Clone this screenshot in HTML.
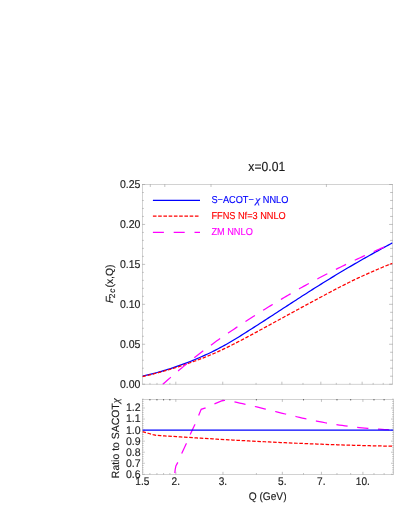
<!DOCTYPE html>
<html><head><meta charset="utf-8"><title>x=0.01</title>
<style>
html,body{margin:0;padding:0;background:#fff;}
svg{display:block;font-family:"Liberation Sans",sans-serif;font-kerning:none;text-rendering:geometricPrecision;}
</style></head><body>
<svg width="399" height="516" viewBox="0 0 399 516">
<rect width="399" height="516" fill="#fff"/>
<defs>
<clipPath id="cu"><rect x="142.5" y="184.5" width="250.0" height="199.7"/></clipPath>
<clipPath id="cl"><rect x="142.4" y="399.4" width="250.999" height="74.900"/></clipPath>
</defs>
<g fill="none" stroke="#b4b4b4" stroke-width="0.6">
<rect x="142.5" y="184.5" width="250.0" height="199.70"/>
<rect x="142.4" y="399.4" width="250.999" height="74.90"/>
</g>
<path d="M175.80,384.5v-2.8 M175.84,474.6v-2.8 M175.84,399.099v2.8 M222.74,384.5v-2.8 M222.97,474.6v-2.8 M222.97,399.099v2.8 M281.88,384.5v-2.8 M282.34,474.6v-2.8 M282.34,399.099v2.8 M320.83,384.5v-2.8 M321.45,474.6v-2.8 M321.45,399.099v2.8 M362.13,384.5v-2.8 M362.91,474.6v-2.8 M362.91,399.099v2.8 M149.97,384.5v-1.6 M149.90,474.6v-1.6 M149.90,399.099v1.6 M156.99,384.5v-1.6 M156.95,474.6v-1.6 M156.95,399.099v1.6 M163.61,384.5v-1.6 M163.59,474.6v-1.6 M163.59,399.099v1.6 M169.87,384.5v-1.6 M169.88,474.6v-1.6 M169.88,399.099v1.6 M256.05,384.5v-1.6 M256.40,474.6v-1.6 M256.40,399.099v1.6 M302.99,384.5v-1.6 M303.53,474.6v-1.6 M303.53,399.099v1.6 M336.29,384.5v-1.6 M336.97,474.6v-1.6 M336.97,399.099v1.6 M349.93,384.5v-1.6 M350.66,474.6v-1.6 M350.66,399.099v1.6 M373.16,384.5v-1.6 M373.98,474.6v-1.6 M373.98,399.099v1.6 M383.23,384.5v-1.6 M384.10,474.6v-1.6 M384.10,399.099v1.6 M150.30,184.2v2.8 M164.80,184.2v2.8 M211.00,184.2v2.8 M326.40,184.2v2.8 M142.2,384.20h2.9 M392.8,384.20h-3.699 M142.2,376.21h1.6 M392.8,376.21h-2.699 M142.2,368.22h1.6 M392.8,368.22h-2.699 M142.2,360.24h1.6 M392.8,360.24h-2.699 M142.2,352.25h1.6 M392.8,352.25h-2.699 M142.2,344.26h2.9 M392.8,344.26h-3.699 M142.2,336.27h1.6 M392.8,336.27h-2.699 M142.2,328.28h1.6 M392.8,328.28h-2.699 M142.2,320.30h1.6 M392.8,320.30h-2.699 M142.2,312.31h1.6 M392.8,312.31h-2.699 M142.2,304.32h2.9 M392.8,304.32h-3.699 M142.2,296.33h1.6 M392.8,296.33h-2.699 M142.2,288.34h1.6 M392.8,288.34h-2.699 M142.2,280.36h1.6 M392.8,280.36h-2.699 M142.2,272.37h1.6 M392.8,272.37h-2.699 M142.2,264.38h2.9 M392.8,264.38h-3.699 M142.2,256.39h1.6 M392.8,256.39h-2.699 M142.2,248.40h1.6 M392.8,248.40h-2.699 M142.2,240.42h1.6 M392.8,240.42h-2.699 M142.2,232.43h1.6 M392.8,232.43h-2.699 M142.2,224.44h2.9 M392.8,224.44h-3.699 M142.2,216.45h1.6 M392.8,216.45h-2.699 M142.2,208.46h1.6 M392.8,208.46h-2.699 M142.2,200.48h1.6 M392.8,200.48h-2.699 M142.2,192.49h1.6 M392.8,192.49h-2.699 M142.2,184.50h2.9 M392.8,184.50h-3.699 M142.1,474.30h2.699 M393.7,474.30h-2.699 M142.1,472.09h1.5 M393.7,472.09h-1.5 M142.1,469.88h1.5 M393.7,469.88h-1.5 M142.1,467.67h1.5 M393.7,467.67h-1.5 M142.1,465.46h1.5 M393.7,465.46h-1.5 M142.1,463.25h2.699 M393.7,463.25h-2.699 M142.1,461.04h1.5 M393.7,461.04h-1.5 M142.1,458.83h1.5 M393.7,458.83h-1.5 M142.1,456.62h1.5 M393.7,456.62h-1.5 M142.1,454.41h1.5 M393.7,454.41h-1.5 M142.1,452.20h2.699 M393.7,452.20h-2.699 M142.1,449.99h1.5 M393.7,449.99h-1.5 M142.1,447.78h1.5 M393.7,447.78h-1.5 M142.1,445.57h1.5 M393.7,445.57h-1.5 M142.1,443.36h1.5 M393.7,443.36h-1.5 M142.1,441.15h2.699 M393.7,441.15h-2.699 M142.1,438.94h1.5 M393.7,438.94h-1.5 M142.1,436.73h1.5 M393.7,436.73h-1.5 M142.1,434.52h1.5 M393.7,434.52h-1.5 M142.1,432.31h1.5 M393.7,432.31h-1.5 M142.1,430.10h2.699 M393.7,430.10h-2.699 M142.1,427.89h1.5 M393.7,427.89h-1.5 M142.1,425.68h1.5 M393.7,425.68h-1.5 M142.1,423.47h1.5 M393.7,423.47h-1.5 M142.1,421.26h1.5 M393.7,421.26h-1.5 M142.1,419.05h2.699 M393.7,419.05h-2.699 M142.1,416.84h1.5 M393.7,416.84h-1.5 M142.1,414.63h1.5 M393.7,414.63h-1.5 M142.1,412.42h1.5 M393.7,412.42h-1.5 M142.1,410.21h1.5 M393.7,410.21h-1.5 M142.1,408.00h2.699 M393.7,408.00h-2.699 M142.1,405.79h1.5 M393.7,405.79h-1.5 M142.1,403.58h1.5 M393.7,403.58h-1.5 M142.1,401.37h1.5 M393.7,401.37h-1.5 M142.1,399.16h1.5 M393.7,399.16h-1.5" fill="none" stroke="#9a9a9a" stroke-width="0.6"/>
<path d="M149.90,399.0v1.2 M156.95,399.0v1.2 M163.59,399.0v1.2 M169.88,399.0v1.2 M256.40,399.0v1.2 M303.53,399.0v1.2 M336.97,399.0v1.2 M350.66,399.0v1.2 M373.98,399.0v1.2 M384.10,399.0v1.2" fill="none" stroke="#555" stroke-width="0.8"/>
<g clip-path="url(#cu)" fill="none" stroke-width="1.25">
<path d="M142.50,376.12 L144.60,375.66 L146.70,375.18 L148.80,374.68 L150.90,374.16 L153.00,373.63 L155.11,373.08 L157.21,372.52 L159.31,371.94 L161.41,371.34 L163.51,370.72 L165.61,370.09 L167.71,369.44 L169.81,368.78 L171.91,368.10 L174.01,367.40 L176.11,366.69 L178.21,365.95 L180.32,365.21 L182.42,364.44 L184.52,363.66 L186.62,362.86 L188.72,362.05 L190.82,361.22 L192.92,360.37 L195.02,359.50 L197.12,358.62 L199.22,357.72 L201.32,356.80 L203.42,355.87 L205.53,354.92 L207.63,353.95 L209.73,352.96 L211.83,351.94 L213.93,350.91 L216.03,349.85 L218.13,348.76 L220.23,347.65 L222.33,346.51 L224.43,345.35 L226.53,344.17 L228.63,342.96 L230.74,341.73 L232.84,340.49 L234.94,339.23 L237.04,337.95 L239.14,336.66 L241.24,335.35 L243.34,334.04 L245.44,332.72 L247.54,331.39 L249.64,330.05 L251.74,328.71 L253.84,327.37 L255.95,326.02 L258.05,324.67 L260.15,323.32 L262.25,321.97 L264.35,320.61 L266.45,319.25 L268.55,317.89 L270.65,316.53 L272.75,315.16 L274.85,313.80 L276.95,312.43 L279.05,311.07 L281.16,309.70 L283.26,308.34 L285.36,306.97 L287.46,305.61 L289.56,304.25 L291.66,302.88 L293.76,301.52 L295.86,300.17 L297.96,298.81 L300.06,297.46 L302.16,296.10 L304.26,294.76 L306.37,293.41 L308.47,292.07 L310.57,290.73 L312.67,289.40 L314.77,288.07 L316.87,286.75 L318.97,285.43 L321.07,284.11 L323.17,282.80 L325.27,281.50 L327.37,280.20 L329.47,278.91 L331.58,277.62 L333.68,276.35 L335.78,275.07 L337.88,273.81 L339.98,272.55 L342.08,271.30 L344.18,270.05 L346.28,268.81 L348.38,267.57 L350.48,266.34 L352.58,265.12 L354.68,263.90 L356.79,262.69 L358.89,261.48 L360.99,260.28 L363.09,259.08 L365.19,257.89 L367.29,256.70 L369.39,255.52 L371.49,254.34 L373.59,253.17 L375.69,252.01 L377.79,250.84 L379.89,249.69 L382.00,248.53 L384.10,247.38 L386.20,246.24 L388.30,245.10 L390.40,243.96 L392.50,242.83" stroke="#0000ff"/>
<path d="M142.50,376.52 L144.60,376.05 L146.70,375.56 L148.80,375.07 L150.90,374.56 L153.00,374.04 L155.11,373.51 L157.21,372.97 L159.31,372.42 L161.41,371.85 L163.51,371.27 L165.61,370.68 L167.71,370.07 L169.81,369.45 L171.91,368.81 L174.01,368.16 L176.11,367.50 L178.21,366.83 L180.32,366.14 L182.42,365.44 L184.52,364.73 L186.62,364.00 L188.72,363.27 L190.82,362.53 L192.92,361.77 L195.02,361.00 L197.12,360.23 L199.22,359.43 L201.32,358.63 L203.42,357.81 L205.53,356.98 L207.63,356.13 L209.73,355.26 L211.83,354.38 L213.93,353.48 L216.03,352.56 L218.13,351.62 L220.23,350.66 L222.33,349.68 L224.43,348.68 L226.53,347.67 L228.63,346.64 L230.74,345.60 L232.84,344.54 L234.94,343.47 L237.04,342.39 L239.14,341.30 L241.24,340.20 L243.34,339.10 L245.44,337.99 L247.54,336.87 L249.64,335.74 L251.74,334.62 L253.84,333.49 L255.95,332.35 L258.05,331.21 L260.15,330.07 L262.25,328.93 L264.35,327.78 L266.45,326.64 L268.55,325.49 L270.65,324.34 L272.75,323.19 L274.85,322.04 L276.95,320.90 L279.05,319.75 L281.16,318.60 L283.26,317.45 L285.36,316.31 L287.46,315.16 L289.56,314.01 L291.66,312.87 L293.76,311.73 L295.86,310.58 L297.96,309.44 L300.06,308.30 L302.16,307.16 L304.26,306.02 L306.37,304.88 L308.47,303.74 L310.57,302.60 L312.67,301.46 L314.77,300.33 L316.87,299.19 L318.97,298.06 L321.07,296.93 L323.17,295.80 L325.27,294.68 L327.37,293.56 L329.47,292.44 L331.58,291.33 L333.68,290.23 L335.78,289.13 L337.88,288.05 L339.98,286.96 L342.08,285.89 L344.18,284.83 L346.28,283.77 L348.38,282.73 L350.48,281.70 L352.58,280.68 L354.68,279.67 L356.79,278.67 L358.89,277.68 L360.99,276.71 L363.09,275.74 L365.19,274.79 L367.29,273.85 L369.39,272.92 L371.49,271.99 L373.59,271.07 L375.69,270.16 L377.79,269.25 L379.89,268.35 L382.00,267.45 L384.10,266.58 L386.20,265.72 L388.30,264.88 L390.40,264.07 L392.50,263.28" stroke="#ff0000" stroke-dasharray="3.6 1.65"/>
<path d="M162.37,384.75 L164.30,383.01 L166.24,381.29 L168.17,379.57 L170.10,377.88 L172.04,376.19 L173.97,374.52 L175.91,372.86 L177.84,371.22 L179.77,369.59 L181.71,367.97 L183.64,366.37 L185.58,364.78 L187.51,363.20 L189.44,361.64 L191.38,360.09 L193.31,358.55 L195.25,357.02 L197.18,355.51 L199.11,354.01 L201.05,352.53 L202.98,351.06 L204.91,349.60 L206.85,348.15 L208.78,346.71 L210.72,345.29 L212.65,343.88 L214.58,342.49 L216.52,341.10 L218.45,339.73 L220.39,338.37 L222.32,337.03 L224.25,335.69 L226.19,334.37 L228.12,333.05 L230.05,331.75 L231.99,330.45 L233.92,329.16 L235.86,327.88 L237.79,326.61 L239.72,325.34 L241.66,324.07 L243.59,322.81 L245.53,321.56 L247.46,320.31 L249.39,319.06 L251.33,317.81 L253.26,316.57 L255.20,315.33 L257.13,314.10 L259.06,312.87 L261.00,311.65 L262.93,310.43 L264.86,309.22 L266.80,308.01 L268.73,306.81 L270.67,305.62 L272.60,304.43 L274.53,303.26 L276.47,302.09 L278.40,300.92 L280.34,299.76 L282.27,298.61 L284.20,297.47 L286.14,296.34 L288.07,295.21 L290.00,294.09 L291.94,292.97 L293.87,291.86 L295.81,290.76 L297.74,289.67 L299.67,288.58 L301.61,287.50 L303.54,286.42 L305.48,285.36 L307.41,284.29 L309.34,283.24 L311.28,282.19 L313.21,281.15 L315.15,280.12 L317.08,279.09 L319.01,278.06 L320.95,277.05 L322.88,276.04 L324.81,275.03 L326.75,274.04 L328.68,273.04 L330.62,272.06 L332.55,271.08 L334.48,270.11 L336.42,269.14 L338.35,268.18 L340.29,267.22 L342.22,266.27 L344.15,265.33 L346.09,264.39 L348.02,263.46 L349.95,262.53 L351.89,261.61 L353.82,260.69 L355.76,259.78 L357.69,258.88 L359.62,257.98 L361.56,257.08 L363.49,256.19 L365.43,255.31 L367.36,254.43 L369.29,253.56 L371.23,252.69 L373.16,251.82 L375.10,250.97 L377.03,250.11 L378.96,249.27 L380.90,248.43 L382.83,247.59 L384.76,246.76 L386.70,245.94 L388.63,245.13 L390.57,244.32 L392.50,243.51" stroke="#ff00ff" stroke-dasharray="11.3 9.6"/>
</g>
<g clip-path="url(#cl)" fill="none" stroke-width="1.25">
<path d="M174.70,474.30 L174.80,473.00 L175.20,469.50 L175.90,466.00 L177.90,462.20 L181.70,453.50 L186.35,443.50 L190.30,434.20 L194.90,424.50 L198.60,415.50 L201.20,409.30 L205.50,407.80 L214.50,403.90 L222.80,400.45 L225.50,400.22 L228.35,400.75 L231.19,401.30 L234.04,401.86 L236.88,402.45 L239.73,403.05 L242.57,403.67 L245.42,404.31 L248.27,404.95 L251.11,405.61 L253.96,406.29 L256.80,406.97 L259.65,407.65 L262.49,408.35 L265.34,409.05 L268.19,409.75 L271.03,410.46 L273.88,411.17 L276.72,411.88 L279.57,412.59 L282.42,413.30 L285.26,414.00 L288.11,414.70 L290.95,415.39 L293.80,416.08 L296.64,416.75 L299.49,417.42 L302.34,418.07 L305.18,418.71 L308.03,419.34 L310.87,419.95 L313.72,420.55 L316.56,421.12 L319.41,421.68 L322.26,422.22 L325.10,422.74 L327.95,423.24 L330.79,423.73 L333.64,424.19 L336.48,424.64 L339.33,425.07 L342.18,425.48 L345.02,425.87 L347.87,426.25 L350.71,426.61 L353.56,426.95 L356.41,427.27 L359.25,427.58 L362.10,427.86 L364.94,428.14 L367.79,428.39 L370.63,428.63 L373.48,428.85 L376.33,429.05 L379.17,429.24 L382.02,429.41 L384.86,429.57 L387.71,429.70 L390.55,429.83 L393.40,429.93" stroke="#ff00ff" stroke-dasharray="11.3 9.6" stroke-dashoffset="-1.2"/>
<path d="M142.50,431.70 L146.00,432.70 L149.00,433.50 L153.00,434.60 L156.50,435.35 L160.52,435.62 L164.53,435.88 L168.55,436.14 L172.56,436.40 L176.58,436.66 L180.59,436.92 L184.61,437.17 L188.62,437.43 L192.64,437.68 L196.65,437.93 L200.67,438.17 L204.68,438.41 L208.70,438.66 L212.71,438.89 L216.73,439.13 L220.74,439.36 L224.76,439.60 L228.77,439.82 L232.79,440.05 L236.81,440.27 L240.82,440.49 L244.84,440.71 L248.85,440.93 L252.87,441.14 L256.88,441.35 L260.90,441.55 L264.91,441.75 L268.93,441.95 L272.94,442.15 L276.96,442.34 L280.97,442.53 L284.99,442.71 L289.00,442.90 L293.02,443.07 L297.03,443.25 L301.05,443.42 L305.06,443.59 L309.08,443.75 L313.09,443.91 L317.11,444.06 L321.13,444.22 L325.14,444.36 L329.16,444.51 L333.17,444.65 L337.19,444.78 L341.20,444.91 L345.22,445.04 L349.23,445.16 L353.25,445.28 L357.26,445.39 L361.28,445.50 L365.29,445.61 L369.31,445.71 L373.32,445.80 L377.34,445.89 L381.35,445.98 L385.37,446.06 L389.38,446.13 L393.40,446.20" stroke="#ff0000" stroke-dasharray="3.6 1.65"/>
<path d="M142.4,430.1H393.4" stroke="#0000ff"/>
</g>
<g fill="none" stroke-width="1.25">
<path d="M152.9,200.3H200.0" stroke="#0000ff"/>
<path d="M152.9,216.2H200.0" stroke="#ff0000" stroke-dasharray="3.6 1.65"/>
<path d="M152.9,232.4H200.0" stroke="#ff00ff" stroke-dasharray="11 9.8"/>
</g>
<g style="opacity:0.999">
<text transform="translate(211.40,203.30) scale(0.911,1)" font-size="10.1px" text-anchor="start" fill="#0000ff" stroke="#0000ff" stroke-width="0.15">S−ACOT−</text>
<text transform="translate(255.20,203.00) scale(1.12,1)" font-size="10.0px" text-anchor="start" fill="#0000ff" stroke="#0000ff" stroke-width="0.15" font-family="Liberation Serif" font-style="italic">χ</text>
<text transform="translate(262.80,203.30) scale(0.911,1)" font-size="10.1px" text-anchor="start" fill="#0000ff" stroke="#0000ff" stroke-width="0.15">NNLO</text>
<text transform="translate(211.40,219.20) scale(0.911,1)" font-size="10.1px" text-anchor="start" fill="#ff0000" stroke="#ff0000" stroke-width="0.15">FFNS Nf=3 NNLO</text>
<text transform="translate(211.40,235.20) scale(0.911,1)" font-size="10.1px" text-anchor="start" fill="#ff00ff" stroke="#ff00ff" stroke-width="0.15">ZM NNLO</text>
<text transform="translate(266.80,170.85) scale(0.922,1)" font-size="13.2px" text-anchor="middle" fill="#1c1c1c" stroke="#1c1c1c" stroke-width="0.15">x=0.01</text>
<text transform="translate(140.45,387.70) scale(0.926,1)" font-size="11.4px" text-anchor="end" fill="#1c1c1c" stroke="#1c1c1c" stroke-width="0.15">0.00</text>
<text transform="translate(140.45,347.76) scale(0.926,1)" font-size="11.4px" text-anchor="end" fill="#1c1c1c" stroke="#1c1c1c" stroke-width="0.15">0.05</text>
<text transform="translate(140.45,307.82) scale(0.926,1)" font-size="11.4px" text-anchor="end" fill="#1c1c1c" stroke="#1c1c1c" stroke-width="0.15">0.10</text>
<text transform="translate(140.45,267.88) scale(0.926,1)" font-size="11.4px" text-anchor="end" fill="#1c1c1c" stroke="#1c1c1c" stroke-width="0.15">0.15</text>
<text transform="translate(140.45,227.94) scale(0.926,1)" font-size="11.4px" text-anchor="end" fill="#1c1c1c" stroke="#1c1c1c" stroke-width="0.15">0.20</text>
<text transform="translate(140.45,188.00) scale(0.926,1)" font-size="11.4px" text-anchor="end" fill="#1c1c1c" stroke="#1c1c1c" stroke-width="0.15">0.25</text>
<text transform="translate(140.65,477.70) scale(0.95,1)" font-size="11.1px" text-anchor="end" fill="#1c1c1c" stroke="#1c1c1c" stroke-width="0.15">0.6</text>
<text transform="translate(140.65,466.65) scale(0.95,1)" font-size="11.1px" text-anchor="end" fill="#1c1c1c" stroke="#1c1c1c" stroke-width="0.15">0.7</text>
<text transform="translate(140.65,455.60) scale(0.95,1)" font-size="11.1px" text-anchor="end" fill="#1c1c1c" stroke="#1c1c1c" stroke-width="0.15">0.8</text>
<text transform="translate(140.65,444.55) scale(0.95,1)" font-size="11.1px" text-anchor="end" fill="#1c1c1c" stroke="#1c1c1c" stroke-width="0.15">0.9</text>
<text transform="translate(140.65,433.50) scale(0.95,1)" font-size="11.1px" text-anchor="end" fill="#1c1c1c" stroke="#1c1c1c" stroke-width="0.15">1.0</text>
<text transform="translate(140.65,422.45) scale(0.95,1)" font-size="11.1px" text-anchor="end" fill="#1c1c1c" stroke="#1c1c1c" stroke-width="0.15">1.1</text>
<text transform="translate(140.65,411.40) scale(0.95,1)" font-size="11.1px" text-anchor="end" fill="#1c1c1c" stroke="#1c1c1c" stroke-width="0.15">1.2</text>
<text transform="translate(142.30,484.50) scale(0.92,1)" font-size="11.0px" text-anchor="middle" fill="#1c1c1c" stroke="#1c1c1c" stroke-width="0.15">1.5</text>
<text transform="translate(175.74,484.50) scale(0.92,1)" font-size="11.0px" text-anchor="middle" fill="#1c1c1c" stroke="#1c1c1c" stroke-width="0.15">2.</text>
<text transform="translate(222.87,484.50) scale(0.92,1)" font-size="11.0px" text-anchor="middle" fill="#1c1c1c" stroke="#1c1c1c" stroke-width="0.15">3.</text>
<text transform="translate(282.24,484.50) scale(0.92,1)" font-size="11.0px" text-anchor="middle" fill="#1c1c1c" stroke="#1c1c1c" stroke-width="0.15">5.</text>
<text transform="translate(321.35,484.50) scale(0.92,1)" font-size="11.0px" text-anchor="middle" fill="#1c1c1c" stroke="#1c1c1c" stroke-width="0.15">7.</text>
<text transform="translate(362.81,484.50) scale(0.92,1)" font-size="11.0px" text-anchor="middle" fill="#1c1c1c" stroke="#1c1c1c" stroke-width="0.15">10.</text>
<text transform="translate(267.60,500.00) scale(0.925,1)" font-size="11.0px" text-anchor="middle" fill="#1c1c1c" stroke="#1c1c1c" stroke-width="0.15">Q (GeV)</text>
<text transform="translate(118.90,403.30) rotate(-90) scale(1,1)" font-size="10.45px" text-anchor="end" fill="#1c1c1c" stroke="#1c1c1c" stroke-width="0.15">Ratio to SACOT</text>
<text transform="translate(118.90,403.20) rotate(-90) scale(1.08,1)" font-size="10.5px" text-anchor="start" fill="#1c1c1c" stroke="#1c1c1c" stroke-width="0.15" font-family="Liberation Serif" font-style="italic">χ</text>
<text transform="translate(113.00,303.10) rotate(-90) scale(1,1)" font-size="10.4px" text-anchor="start" fill="#1c1c1c" stroke="#1c1c1c" stroke-width="0.15"><tspan font-style="italic">F</tspan><tspan font-size="8.4px" dy="2" dx="-1.5">2<tspan font-style="italic" dx="0.8">c</tspan></tspan><tspan dy="-2" dx="1.0">(x,Q)</tspan></text>
</g>
</svg></body></html>
